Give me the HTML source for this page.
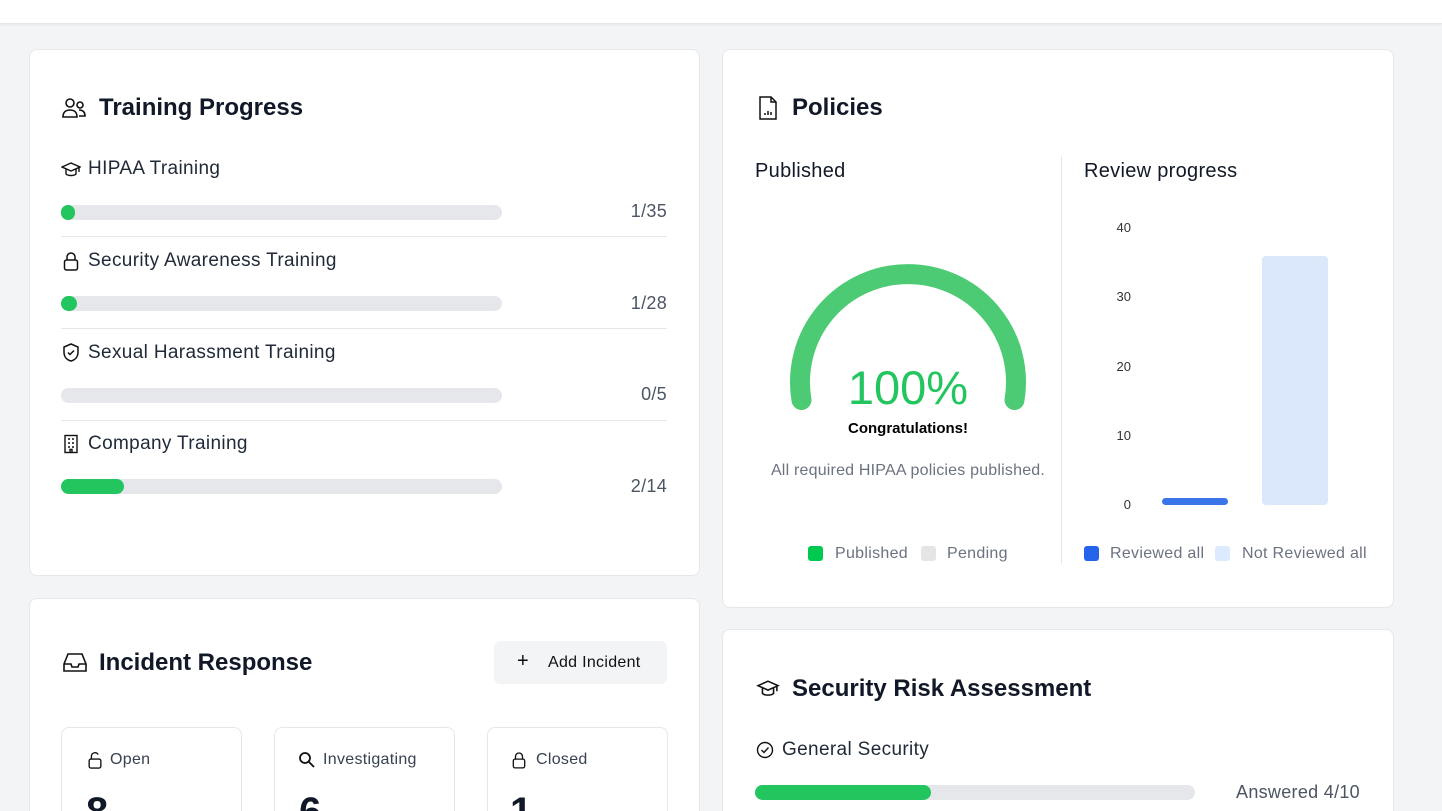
<!DOCTYPE html>
<html><head><meta charset="utf-8"><style>
*{box-sizing:border-box;margin:0;padding:0}
html{width:1442px;height:811px;overflow:hidden}
body{width:1442px;height:811px;overflow:hidden;background:#f3f4f6;font-family:"Liberation Sans",sans-serif;color:#111827;position:relative}
.top{position:absolute;left:0;top:0;width:1442px;height:24px;background:#fff;border-bottom:1px solid #e5e7eb;box-shadow:0 1px 2px rgba(0,0,0,.05)}
.card{position:absolute;background:#fff;border:1px solid #e5e7eb;border-radius:8px}
.cut{border-bottom:none;border-bottom-left-radius:0;border-bottom-right-radius:0}
.abs{position:absolute;white-space:nowrap}
.h{font-size:24px;font-weight:600;color:#111827}
.lbl{font-size:19px;letter-spacing:0.35px;color:#1f2937}
.track{position:absolute;height:15px;background:#e5e7eb;border-radius:8px}
.fill{position:absolute;left:0;top:0;height:15px;background:#22c55e;border-radius:8px}
.cnt{font-size:18px;color:#4b5563;text-align:right;letter-spacing:0.3px}
.sep{position:absolute;height:1px;background:#e5e7eb}
.tick{font-size:13px;color:#333;text-align:right;width:30px}
.leg{font-size:16px;color:#6b7280;letter-spacing:0.3px}
.sq{position:absolute;width:15px;height:15px;border-radius:3px}
.sc{position:absolute;top:727px;height:84px;width:181px;border:1px solid #e5e7eb;border-bottom:none;border-radius:8px 8px 0 0;background:#fff;overflow:hidden}
.big{position:absolute;left:24px;top:61px;font-size:40px;font-weight:600;line-height:46px}
</style></head><body>
<div class="top"></div>

<div class="card" style="left:29px;top:49px;width:671px;height:527px"></div>
<svg class="abs" style="left:61px;top:96px" width="26" height="24" viewBox="0 0 26 24" fill="none" stroke="#111" stroke-width="1.6"><circle cx="9" cy="7" r="4"/><path d="M2 21c0-5 3-7 7-7s7 2 7 7z"/><circle cx="19" cy="9" r="3"/><path d="M18 14c4 0 6 2 6 6h-6"/></svg>
<div class="abs h" style="left:99px;top:94px">Training Progress</div>

<svg class="abs" style="left:61px;top:161px" width="20" height="18" viewBox="0 0 20 18" fill="none" stroke="#111" stroke-width="1.4"><path d="M1 6l9-4 9 4-9 4z"/><path d="M5 8v5c2 2 8 2 10 0V8"/><path d="M18 6v5"/></svg>
<div class="abs lbl" style="left:88px;top:158px">HIPAA Training</div>
<div class="track" style="left:61px;top:205px;width:441px"><div class="fill" style="width:14px"></div></div>
<div class="abs cnt" style="right:775px;top:201px">1/35</div>
<div class="sep" style="left:61px;top:236px;width:606px"></div>

<svg class="abs" style="left:63px;top:251px" width="16" height="20" viewBox="0 0 16 20" fill="none" stroke="#111" stroke-width="1.5"><rect x="1.5" y="9" width="13" height="10" rx="2"/><path d="M4 9V6a4 4 0 0 1 8 0v3"/></svg>
<div class="abs lbl" style="left:88px;top:250px">Security Awareness Training</div>
<div class="track" style="left:61px;top:296px;width:441px"><div class="fill" style="width:16px"></div></div>
<div class="abs cnt" style="right:775px;top:293px">1/28</div>
<div class="sep" style="left:61px;top:328px;width:606px"></div>

<svg class="abs" style="left:62px;top:343px" width="18" height="19" viewBox="0 0 18 19" fill="none" stroke="#111" stroke-width="1.5"><path d="M9 1l7 3v5c0 5-3 8-7 9-4-1-7-4-7-9V4z"/><path d="M6 9.5l2 2 4-4"/></svg>
<div class="abs lbl" style="left:88px;top:342px">Sexual Harassment Training</div>
<div class="track" style="left:61px;top:388px;width:441px"></div>
<div class="abs cnt" style="right:775px;top:384px">0/5</div>
<div class="sep" style="left:61px;top:420px;width:606px"></div>

<svg class="abs" style="left:63px;top:434px" width="16" height="20" viewBox="0 0 16 20" fill="none" stroke="#111" stroke-width="1.4"><rect x="2" y="1.5" width="12" height="17"/><path d="M5 5h2M9 5h2M5 9h2M9 9h2M5 13h2M9 13h2M7 18.5v-3h2v3"/></svg>
<div class="abs lbl" style="left:88px;top:433px">Company Training</div>
<div class="track" style="left:61px;top:479px;width:441px"><div class="fill" style="width:63px"></div></div>
<div class="abs cnt" style="right:775px;top:476px">2/14</div>

<div class="card" style="left:722px;top:49px;width:672px;height:559px"></div>
<svg class="abs" style="left:757px;top:95px" width="22" height="26" viewBox="0 0 22 26" fill="none" stroke="#111" stroke-width="1.5"><path d="M3 2h11l5 5v17H3z"/><path d="M14 2v5h5"/><path d="M8 20v-2M11 20v-4M14 20v-3"/></svg>
<div class="abs h" style="left:792px;top:94px">Policies</div>
<div class="abs" style="left:755px;top:160px;font-size:20px;letter-spacing:0.3px;color:#111827">Published</div>
<div class="abs" style="left:1084px;top:160px;font-size:20px;letter-spacing:0.3px;color:#111827">Review progress</div>
<div class="sep" style="left:1061px;top:156px;width:1px;height:408px"></div>

<svg class="abs" style="left:722px;top:200px" width="340" height="240">
<path d="M 79.5 200 A 108 108 0 1 1 292.5 200" fill="none" stroke="#4ccb74" stroke-width="20" stroke-linecap="round"/>
</svg>
<div class="abs" style="left:808px;top:360px;width:200px;text-align:center;font-size:47px;color:#22c55e">100%</div>
<div class="abs" style="left:808px;top:420px;width:200px;text-align:center;font-size:15px;font-weight:700;color:#000">Congratulations!</div>
<div class="abs" style="left:758px;top:462px;width:300px;text-align:center;font-size:16px;letter-spacing:0.2px;color:#6b7280">All required HIPAA policies published.</div>
<div class="sq" style="left:808px;top:546px;background:#00c950"></div>
<div class="abs leg" style="left:835px;top:545px">Published</div>
<div class="sq" style="left:921px;top:546px;background:#e5e5e5"></div>
<div class="abs leg" style="left:947px;top:545px">Pending</div>

<div class="abs tick" style="left:1101px;top:220px">40</div>
<div class="abs tick" style="left:1101px;top:289px">30</div>
<div class="abs tick" style="left:1101px;top:359px">20</div>
<div class="abs tick" style="left:1101px;top:428px">10</div>
<div class="abs tick" style="left:1101px;top:497px">0</div>
<div class="abs" style="left:1162px;top:498px;width:66px;height:7px;background:#3b75ea;border-radius:4px"></div>
<div class="abs" style="left:1262px;top:256px;width:66px;height:249px;background:#dbe8fc;border-radius:4px"></div>
<div class="sq" style="left:1084px;top:546px;background:#2563eb"></div>
<div class="abs leg" style="left:1110px;top:545px">Reviewed all</div>
<div class="sq" style="left:1215px;top:546px;background:#dbeafe"></div>
<div class="abs leg" style="left:1242px;top:545px">Not Reviewed all</div>

<div class="card cut" style="left:29px;top:598px;width:671px;height:213px"></div>
<svg class="abs" style="left:62px;top:652px" width="26" height="22" viewBox="0 0 26 22" fill="none" stroke="#111" stroke-width="1.6"><path d="M2 12l4-10h14l4 10v7H2z"/><path d="M2 12h7l1 3h6l1-3h7"/></svg>
<div class="abs h" style="left:99px;top:649px">Incident Response</div>
<div class="abs" style="left:494px;top:641px;width:173px;height:43px;background:#f3f4f6;border-radius:6px"></div>
<div class="abs" style="left:517px;top:650px;font-size:20px;color:#111">+</div>
<div class="abs" style="left:548px;top:654px;font-size:16px;font-weight:500;letter-spacing:0.3px;color:#111">Add Incident</div>
<div class="sc" style="left:61px"><div class="big">8</div></div>
<div class="sc" style="left:274px"><div class="big">6</div></div>
<div class="sc" style="left:487px"><div class="big" style="left:22px">1</div></div>
<svg class="abs" style="left:87px;top:751px" width="16" height="18" viewBox="0 0 16 20" fill="none" stroke="#111" stroke-width="1.5"><rect x="1.5" y="9" width="13" height="10" rx="2"/><path d="M4 9V6a4 4 0 0 1 7.5-2"/></svg>
<div class="abs" style="left:110px;top:751px;font-size:16px;letter-spacing:0.3px;color:#374151">Open</div>
<svg class="abs" style="left:298px;top:751px" width="18" height="18" viewBox="0 0 18 18" fill="none" stroke="#111" stroke-width="1.8"><circle cx="7" cy="7" r="5"/><path d="M11 11l5 5"/></svg>
<div class="abs" style="left:323px;top:751px;font-size:16px;letter-spacing:0.3px;color:#374151">Investigating</div>
<svg class="abs" style="left:512px;top:751px" width="14" height="18" viewBox="0 0 16 20" fill="none" stroke="#111" stroke-width="1.5"><rect x="1.5" y="9" width="13" height="10" rx="2"/><path d="M4 9V6a4 4 0 0 1 8 0v3"/></svg>
<div class="abs" style="left:536px;top:751px;font-size:16px;letter-spacing:0.3px;color:#374151">Closed</div>

<div class="card cut" style="left:722px;top:629px;width:672px;height:182px"></div>
<svg class="abs" style="left:756px;top:679px" width="24" height="20" viewBox="0 0 20 18" fill="none" stroke="#111" stroke-width="1.4"><path d="M1 6l9-4 9 4-9 4z"/><path d="M5 8v5c2 2 8 2 10 0V8"/><path d="M18 6v5"/></svg>
<div class="abs h" style="left:792px;top:675px">Security Risk Assessment</div>
<svg class="abs" style="left:756px;top:741px" width="18" height="18" viewBox="0 0 18 18" fill="none" stroke="#111" stroke-width="1.4"><circle cx="9" cy="9" r="7.5"/><path d="M5.5 9l2.5 2.5 4.5-5"/></svg>
<div class="abs lbl" style="left:782px;top:739px">General Security</div>
<div class="track" style="left:755px;top:785px;width:440px"><div class="fill" style="width:176px;background:#22c55e"></div></div>
<div class="abs cnt" style="right:82px;top:782px">Answered 4/10</div>
</body></html>
